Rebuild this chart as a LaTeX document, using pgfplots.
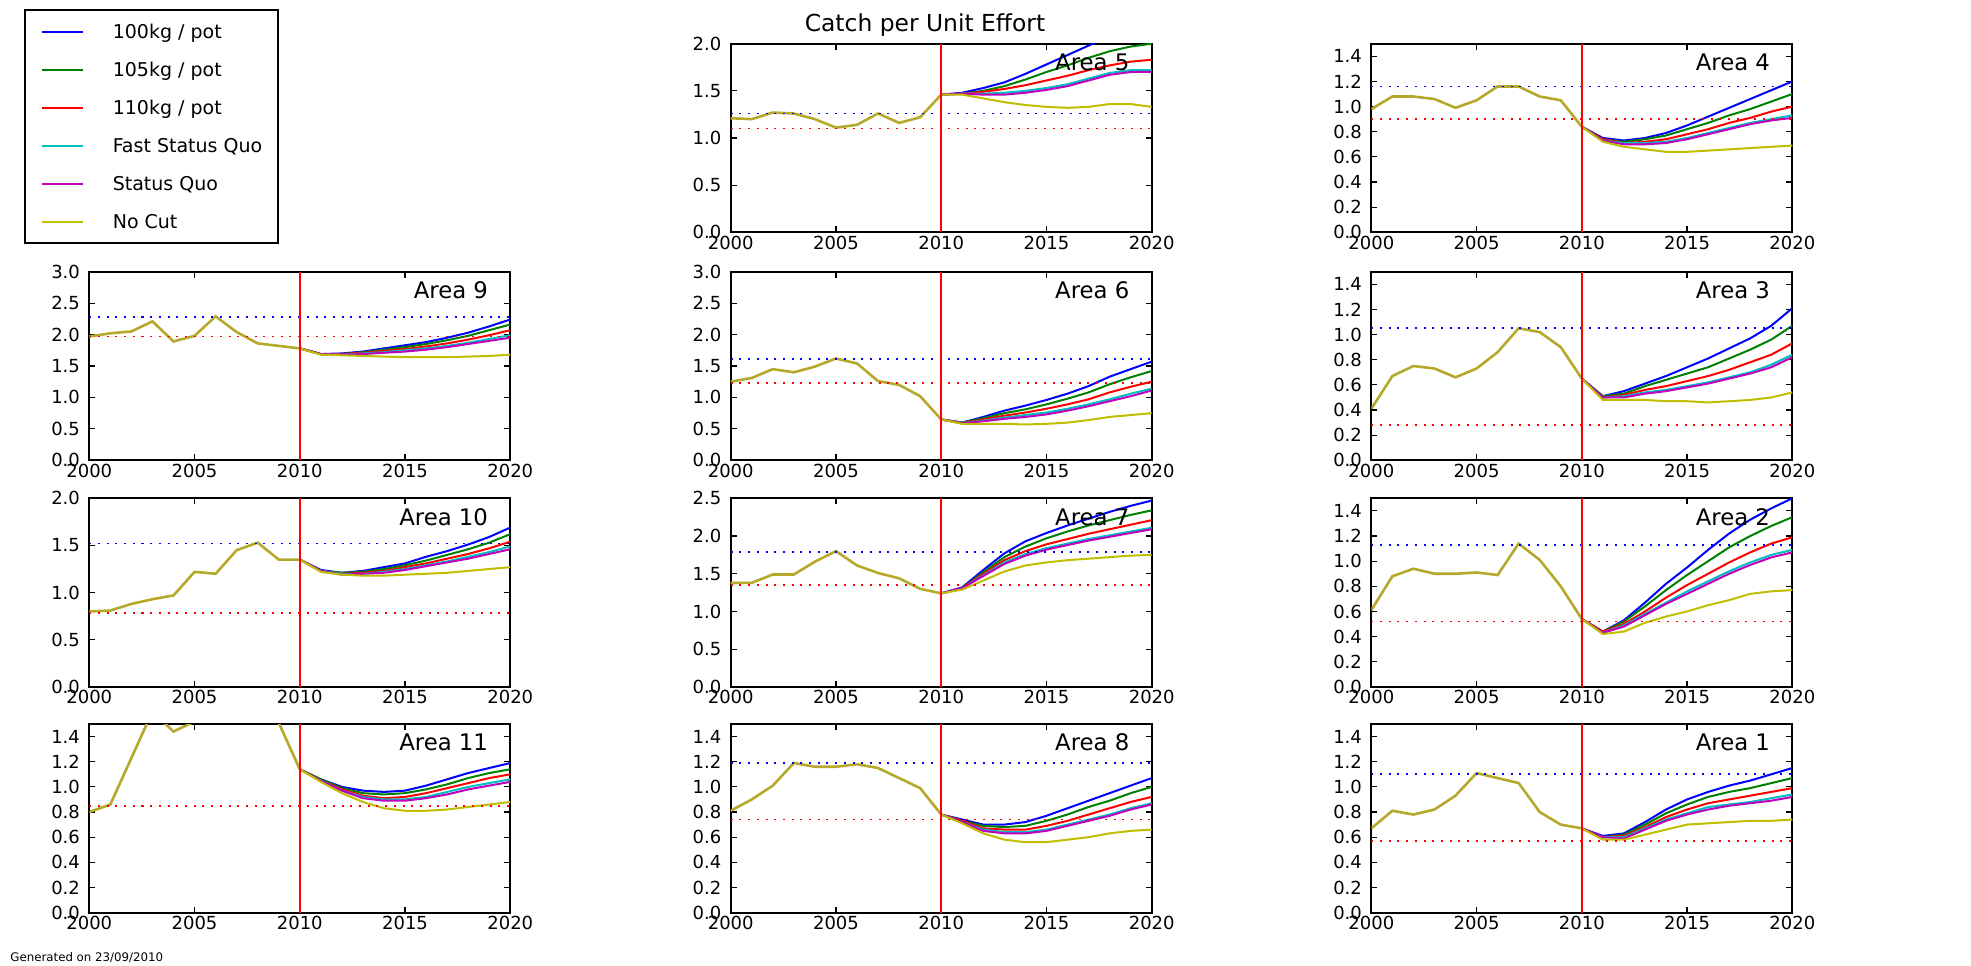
\documentclass[border=0pt]{standalone}
\usepackage{fontspec}
\setmainfont{DejaVu Sans}
\usepackage{pgfplots}
\usepackage{pgfplotstable}
\pgfplotsset{compat=1.18}
\definecolor{mb}{rgb}{0,0,1}
\definecolor{mg}{rgb}{0,0.5,0}
\definecolor{mr}{rgb}{1,0,0}
\definecolor{mc}{rgb}{0,0.75,0.75}
\definecolor{mm}{rgb}{0.75,0,0.75}
\definecolor{my}{rgb}{0.75,0.75,0}
\definecolor{histcol}{rgb}{0.71,0.66,0.17}

% Area 5
\pgfplotstableread{
yr v
2000 1.21
2001 1.20
2002 1.27
2003 1.26
2004 1.20
2005 1.11
2006 1.14
2007 1.26
2008 1.16
2009 1.22
2010 1.46
}\hA
\pgfplotstableread{
yr b g r c m n
2010 1.46 1.46 1.46 1.46 1.46 1.46
2011 1.48 1.47 1.47 1.47 1.47 1.46
2012 1.53 1.50 1.49 1.47 1.46 1.42
2013 1.59 1.55 1.52 1.48 1.46 1.38
2014 1.68 1.62 1.56 1.50 1.48 1.35
2015 1.78 1.70 1.61 1.53 1.51 1.33
2016 1.88 1.77 1.66 1.57 1.55 1.32
2017 1.98 1.85 1.72 1.63 1.61 1.33
2018 2.08 1.92 1.77 1.69 1.67 1.36
2019 2.17 1.97 1.81 1.72 1.70 1.36
2020 2.25 2.00 1.83 1.72 1.70 1.33
}\pA
% Area 4
\pgfplotstableread{
yr v
2000 0.98
2001 1.08
2002 1.08
2003 1.06
2004 0.99
2005 1.05
2006 1.16
2007 1.16
2008 1.08
2009 1.05
2010 0.84
}\hB
\pgfplotstableread{
yr b g r c m n
2010 0.84 0.84 0.84 0.84 0.84 0.84
2011 0.75 0.74 0.74 0.73 0.73 0.72
2012 0.73 0.72 0.71 0.71 0.70 0.68
2013 0.75 0.74 0.72 0.71 0.70 0.66
2014 0.79 0.77 0.74 0.72 0.71 0.64
2015 0.85 0.82 0.78 0.75 0.74 0.64
2016 0.92 0.87 0.82 0.79 0.78 0.65
2017 0.99 0.93 0.87 0.83 0.82 0.66
2018 1.06 0.98 0.91 0.87 0.86 0.67
2019 1.13 1.04 0.96 0.90 0.89 0.68
2020 1.20 1.10 1.00 0.93 0.91 0.69
}\pB
% Area 9
\pgfplotstableread{
yr v
2000 1.97
2001 2.02
2002 2.05
2003 2.21
2004 1.89
2005 1.98
2006 2.29
2007 2.04
2008 1.86
2009 1.82
2010 1.78
}\hC
\pgfplotstableread{
yr b g r c m n
2010 1.78 1.78 1.78 1.78 1.78 1.78
2011 1.69 1.69 1.69 1.69 1.69 1.68
2012 1.70 1.69 1.69 1.68 1.68 1.67
2013 1.73 1.72 1.71 1.70 1.69 1.66
2014 1.78 1.76 1.74 1.72 1.71 1.65
2015 1.83 1.80 1.77 1.75 1.73 1.64
2016 1.88 1.85 1.81 1.78 1.76 1.64
2017 1.95 1.91 1.86 1.82 1.80 1.64
2018 2.03 1.98 1.92 1.87 1.85 1.65
2019 2.13 2.07 1.99 1.93 1.90 1.66
2020 2.24 2.16 2.07 1.99 1.95 1.68
}\pC
% Area 6
\pgfplotstableread{
yr v
2000 1.25
2001 1.31
2002 1.45
2003 1.40
2004 1.49
2005 1.62
2006 1.54
2007 1.26
2008 1.20
2009 1.02
2010 0.65
}\hD
\pgfplotstableread{
yr b g r c m n
2010 0.65 0.65 0.65 0.65 0.65 0.65
2011 0.60 0.60 0.59 0.59 0.59 0.58
2012 0.69 0.67 0.65 0.63 0.62 0.58
2013 0.79 0.75 0.71 0.68 0.66 0.58
2014 0.87 0.81 0.76 0.72 0.69 0.57
2015 0.96 0.89 0.82 0.76 0.73 0.58
2016 1.06 0.98 0.89 0.82 0.79 0.60
2017 1.18 1.08 0.97 0.89 0.86 0.64
2018 1.33 1.21 1.08 0.97 0.94 0.69
2019 1.45 1.32 1.17 1.06 1.02 0.72
2020 1.57 1.42 1.25 1.14 1.11 0.75
}\pD
% Area 3
\pgfplotstableread{
yr v
2000 0.41
2001 0.67
2002 0.75
2003 0.73
2004 0.66
2005 0.73
2006 0.86
2007 1.05
2008 1.02
2009 0.90
2010 0.65
}\hE
\pgfplotstableread{
yr b g r c m n
2010 0.65 0.65 0.65 0.65 0.65 0.65
2011 0.51 0.51 0.50 0.50 0.50 0.48
2012 0.55 0.53 0.52 0.51 0.50 0.48
2013 0.61 0.59 0.56 0.54 0.53 0.48
2014 0.67 0.64 0.59 0.56 0.55 0.47
2015 0.74 0.69 0.63 0.59 0.58 0.47
2016 0.81 0.74 0.67 0.62 0.61 0.46
2017 0.89 0.81 0.72 0.66 0.65 0.47
2018 0.97 0.88 0.78 0.70 0.69 0.48
2019 1.07 0.96 0.84 0.76 0.74 0.50
2020 1.21 1.07 0.93 0.84 0.82 0.54
}\pE
% Area 10
\pgfplotstableread{
yr v
2000 0.80
2001 0.81
2002 0.88
2003 0.93
2004 0.97
2005 1.22
2006 1.20
2007 1.45
2008 1.53
2009 1.35
2010 1.35
}\hF
\pgfplotstableread{
yr b g r c m n
2010 1.35 1.35 1.35 1.35 1.35 1.35
2011 1.24 1.23 1.23 1.23 1.23 1.22
2012 1.21 1.21 1.20 1.20 1.19 1.19
2013 1.23 1.22 1.21 1.20 1.20 1.18
2014 1.27 1.25 1.23 1.22 1.21 1.18
2015 1.31 1.29 1.27 1.25 1.24 1.19
2016 1.38 1.34 1.31 1.29 1.28 1.20
2017 1.44 1.40 1.36 1.33 1.32 1.21
2018 1.51 1.46 1.41 1.38 1.36 1.23
2019 1.59 1.53 1.47 1.43 1.41 1.25
2020 1.69 1.62 1.54 1.49 1.46 1.27
}\pF
% Area 7
\pgfplotstableread{
yr v
2000 1.38
2001 1.38
2002 1.49
2003 1.49
2004 1.66
2005 1.80
2006 1.61
2007 1.51
2008 1.44
2009 1.30
2010 1.24
}\hG
\pgfplotstableread{
yr b g r c m n
2010 1.24 1.24 1.24 1.24 1.24 1.24
2011 1.32 1.31 1.31 1.31 1.31 1.29
2012 1.55 1.52 1.50 1.48 1.47 1.41
2013 1.77 1.72 1.68 1.65 1.63 1.53
2014 1.93 1.86 1.80 1.76 1.74 1.61
2015 2.04 1.97 1.89 1.84 1.82 1.65
2016 2.14 2.06 1.96 1.90 1.88 1.68
2017 2.23 2.14 2.03 1.96 1.94 1.70
2018 2.32 2.21 2.09 2.01 1.99 1.72
2019 2.40 2.28 2.15 2.06 2.04 1.74
2020 2.47 2.34 2.21 2.11 2.09 1.75
}\pG
% Area 2
\pgfplotstableread{
yr v
2000 0.61
2001 0.88
2002 0.94
2003 0.90
2004 0.90
2005 0.91
2006 0.89
2007 1.14
2008 1.01
2009 0.80
2010 0.54
}\hH
\pgfplotstableread{
yr b g r c m n
2010 0.54 0.54 0.54 0.54 0.54 0.54
2011 0.44 0.44 0.44 0.43 0.43 0.42
2012 0.53 0.52 0.50 0.49 0.48 0.44
2013 0.67 0.64 0.60 0.58 0.57 0.51
2014 0.82 0.77 0.71 0.67 0.66 0.56
2015 0.95 0.89 0.81 0.76 0.74 0.60
2016 1.09 1.00 0.90 0.84 0.82 0.65
2017 1.22 1.11 0.99 0.92 0.90 0.69
2018 1.33 1.20 1.07 0.99 0.97 0.74
2019 1.42 1.28 1.14 1.05 1.03 0.76
2020 1.50 1.35 1.19 1.09 1.07 0.77
}\pH
% Area 11
\pgfplotstableread{
yr v
2000 0.80
2001 0.86
2002 1.23
2003 1.60
2004 1.44
2005 1.52
2006 1.65
2007 1.70
2008 1.62
2009 1.51
2010 1.14
}\hI
\pgfplotstableread{
yr b g r c m n
2010 1.14 1.14 1.14 1.14 1.14 1.14
2011 1.06 1.06 1.05 1.05 1.05 1.04
2012 1.00 0.99 0.98 0.97 0.97 0.95
2013 0.97 0.95 0.93 0.92 0.91 0.88
2014 0.96 0.94 0.91 0.90 0.89 0.83
2015 0.97 0.95 0.92 0.90 0.89 0.81
2016 1.01 0.98 0.95 0.92 0.91 0.81
2017 1.06 1.02 0.99 0.96 0.94 0.82
2018 1.11 1.07 1.03 1.00 0.98 0.84
2019 1.15 1.11 1.07 1.03 1.01 0.86
2020 1.19 1.14 1.10 1.06 1.04 0.88
}\pI
% Area 8
\pgfplotstableread{
yr v
2000 0.81
2001 0.90
2002 1.01
2003 1.19
2004 1.16
2005 1.16
2006 1.18
2007 1.15
2008 1.07
2009 0.99
2010 0.78
}\hJ
\pgfplotstableread{
yr b g r c m n
2010 0.78 0.78 0.78 0.78 0.78 0.78
2011 0.74 0.73 0.73 0.72 0.72 0.71
2012 0.70 0.69 0.67 0.66 0.65 0.63
2013 0.70 0.68 0.66 0.64 0.63 0.58
2014 0.72 0.69 0.66 0.64 0.63 0.56
2015 0.77 0.73 0.69 0.66 0.65 0.56
2016 0.83 0.78 0.73 0.70 0.69 0.58
2017 0.89 0.84 0.78 0.74 0.73 0.60
2018 0.95 0.89 0.83 0.78 0.77 0.63
2019 1.01 0.95 0.88 0.83 0.82 0.65
2020 1.07 1.00 0.92 0.87 0.86 0.66
}\pJ
% Area 1
\pgfplotstableread{
yr v
2000 0.67
2001 0.81
2002 0.78
2003 0.82
2004 0.93
2005 1.11
2006 1.07
2007 1.03
2008 0.80
2009 0.70
2010 0.67
}\hK
\pgfplotstableread{
yr b g r c m n
2010 0.67 0.67 0.67 0.67 0.67 0.67
2011 0.61 0.60 0.60 0.60 0.60 0.58
2012 0.63 0.62 0.61 0.60 0.59 0.58
2013 0.72 0.70 0.68 0.67 0.66 0.62
2014 0.82 0.79 0.76 0.74 0.73 0.66
2015 0.90 0.86 0.82 0.79 0.78 0.70
2016 0.96 0.92 0.87 0.84 0.82 0.71
2017 1.01 0.96 0.90 0.86 0.85 0.72
2018 1.05 0.99 0.93 0.88 0.87 0.73
2019 1.10 1.03 0.96 0.91 0.89 0.73
2020 1.15 1.07 0.99 0.94 0.92 0.74
}\pK

\pgfplotsset{
  cpue/.style={
    scale only axis, width=210.5pt, height=94.3pt,
    anchor=north west,
    xmin=2000, xmax=2020, ymin=0,
    xtick={2000,2005,2010,2015,2020},
    tick align=inside, major tick length=3pt,
    axis line style={line width=0.9pt},
    every tick/.style={black, line width=0.6pt},
    tick label style={font=\fontsize{9}{10}\selectfont},
    /pgf/number format/assume math mode=true,
    xticklabel style={/pgf/number format/1000 sep={}, inner sep=1.5pt},
    yticklabel style={/pgf/number format/fixed, /pgf/number format/fixed zerofill, /pgf/number format/precision=1, inner xsep=4.5pt},
    every axis plot/.append style={line width=1pt},
    clip mode=individual,
  },
  yA/.style={ymax=1.5, ytick={0,0.2,0.4,0.6,0.8,1.0,1.2,1.4}},
  yB/.style={ymax=2.0, ytick={0,0.5,1.0,1.5,2.0}},
  yC/.style={ymax=2.5, ytick={0,0.5,1.0,1.5,2.0,2.5}},
  yD/.style={ymax=3.0, ytick={0,0.5,1.0,1.5,2.0,2.5,3.0}},
}
\newcommand\series[2]{%
  \addplot[mb] table[x=yr,y=b]{#1};
  \addplot[mg] table[x=yr,y=g]{#1};
  \addplot[mr] table[x=yr,y=r]{#1};
  \addplot[mc] table[x=yr,y=c]{#1};
  \addplot[mm] table[x=yr,y=m]{#1};
  \addplot[my] table[x=yr,y=n]{#1};
  \addplot[color=histcol, line width=1.3pt] table[x=yr,y=v]{#2};
}
\newcommand\cutline[1]{\addplot[mr, line width=1pt] coordinates {(2010,0) (2010,#1)};}
\newcommand\bref[1]{\addplot[mb, line width=0.9pt, dash pattern=on 1pt off 3.35pt] coordinates {(2000,#1) (2020,#1)};}
\newcommand\rref[1]{\addplot[mr, line width=0.9pt, dash pattern=on 1pt off 3.35pt] coordinates {(2000,#1) (2020,#1)};}
\newcommand\areaname[1]{\node[anchor=base east, font=\fontsize{11.4}{13}\selectfont, inner sep=0pt] at (rel axis cs:0.948,0.857) {#1};}

\begin{document}
\begin{tikzpicture}
% ---- Row 1 ----
\begin{axis}[cpue, yB, at={(365.35pt,-21.85pt)}]
  \series{\pA}{\hA}
  \bref{1.26}\rref{1.10}\cutline{2.0}
  \areaname{Area 5}
  \node[anchor=base, yshift=6.35pt, font=\fontsize{11.7}{13}\selectfont, inner sep=0pt] at (rel axis cs:0.4615,1) {Catch per Unit Effort};
\end{axis}
\begin{axis}[cpue, yA, at={(685.65pt,-21.85pt)}]
  \series{\pB}{\hB}
  \bref{1.16}\rref{0.90}\cutline{1.5}
  \areaname{Area 4}
\end{axis}
% ---- Row 2 ----
\begin{axis}[cpue, yD, at={(44.65pt,-135.85pt)},
  legend style={at={(-0.1544,2.3929)}, anchor=north west, draw=black, line width=0.9pt, fill=white,
    inner xsep=8pt, inner ysep=1.35pt, row sep=0pt, column sep=14.5pt,
    font=\fontsize{9.5}{11}\selectfont,
    nodes={inner sep=0pt, minimum height=19pt, text depth=0pt}},
  legend cell align=left,
  legend image code/.code={\draw[#1, line width=1pt] (0pt,0pt) -- (20.3pt,0pt);}]
  \series{\pC}{\hC}
  \bref{2.28}\rref{1.97}\cutline{3.0}
  \areaname{Area 9}
  \legend{100kg / pot, 105kg / pot, 110kg / pot, Fast Status Quo, Status Quo, No Cut}
\end{axis}
\begin{axis}[cpue, yD, at={(365.35pt,-135.85pt)}]
  \series{\pD}{\hD}
  \bref{1.61}\rref{1.23}\cutline{3.0}
  \areaname{Area 6}
\end{axis}
\begin{axis}[cpue, yA, at={(685.65pt,-135.85pt)}]
  \series{\pE}{\hE}
  \bref{1.05}\rref{0.28}\cutline{1.5}
  \areaname{Area 3}
\end{axis}
% ---- Row 3 ----
\begin{axis}[cpue, yB, at={(44.65pt,-249.15pt)}]
  \series{\pF}{\hF}
  \bref{1.52}\rref{0.78}\cutline{2.0}
  \areaname{Area 10}
\end{axis}
\begin{axis}[cpue, yC, at={(365.35pt,-249.15pt)}]
  \series{\pG}{\hG}
  \bref{1.79}\rref{1.35}\cutline{2.5}
  \areaname{Area 7}
\end{axis}
\begin{axis}[cpue, yA, at={(685.65pt,-249.15pt)}]
  \series{\pH}{\hH}
  \bref{1.13}\rref{0.52}\cutline{1.5}
  \areaname{Area 2}
\end{axis}
% ---- Row 4 ----
\begin{axis}[cpue, yA, at={(44.65pt,-362pt)}]
  \series{\pI}{\hI}
  \rref{0.85}\cutline{1.5}
  \areaname{Area 11}
\end{axis}
\begin{axis}[cpue, yA, at={(365.35pt,-362pt)}]
  \series{\pJ}{\hJ}
  \bref{1.19}\rref{0.74}\cutline{1.5}
  \areaname{Area 8}
\end{axis}
\begin{axis}[cpue, yA, at={(685.65pt,-362pt)}]
  \series{\pK}{\hK}
  \bref{1.10}\rref{0.57}\cutline{1.5}
  \areaname{Area 1}
\end{axis}
\node[anchor=base west, font=\fontsize{5.9}{7}\selectfont, inner sep=0pt] at (5pt,-480.85pt) {Generated on 23/09/2010};
\pgfresetboundingbox
\path[use as bounding box] (0,0) rectangle (985.5pt,-482.5pt);
\end{tikzpicture}
\end{document}
